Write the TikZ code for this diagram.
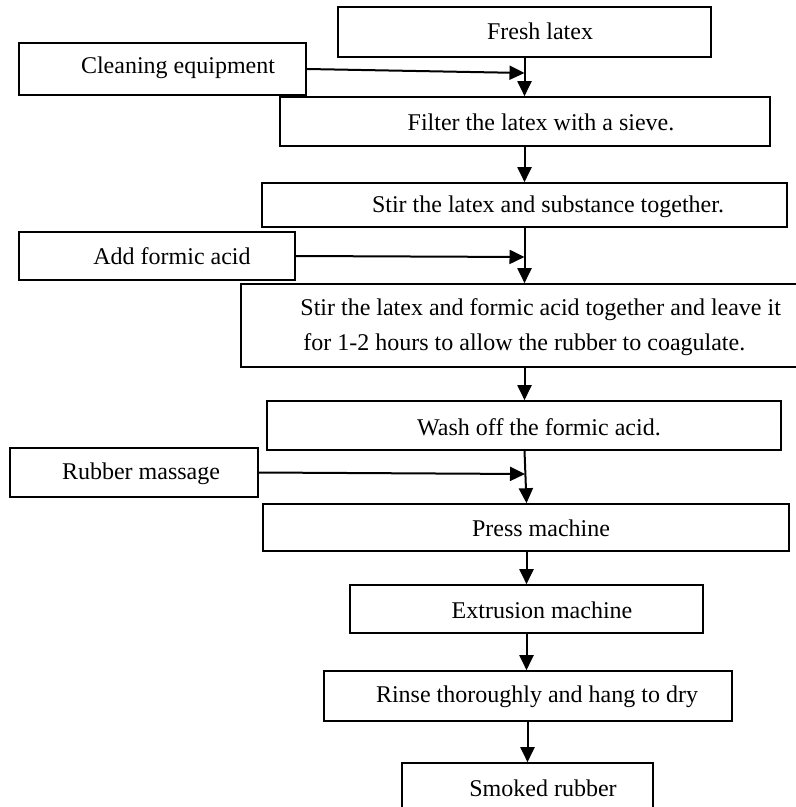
\documentclass[tikz,border=0pt]{standalone}
\usepackage{fontspec}
\setmainfont{Liberation Serif}
\usetikzlibrary{arrows.meta,fit}
\begin{document}
\begin{tikzpicture}[x=0.5pt,y=-0.5pt,
  box/.style={draw=black,line width=0.8pt,inner sep=0pt,rectangle},
  txt/.style={inner sep=0pt,font=\fontsize{12}{14}\selectfont},
  arr/.style={draw=black,line width=1pt,-{Triangle[length=7.5pt,width=7pt]}},
  plain/.style={draw=black,line width=1pt}]
\useasboundingbox (0,0) rectangle (796,807);
% boxes
\node[box,fit={(338,7) (711,57)}] (fresh) {};
\node[box,fit={(19,43) (306,95)}] (clean) {};
\node[box,fit={(280,97) (770,146)}] (filter) {};
\node[box,fit={(262,183) (787,227)}] (stir) {};
\node[box,fit={(19,232) (295,280)}] (add) {};
\node[box,fit={(241,284) (806,367)}] (coag) {};
\node[box,fit={(267,401) (781,450)}] (wash) {};
\node[box,fit={(10,448) (258,497)}] (rubber) {};
\node[box,fit={(263,504) (789,551)}] (press) {};
\node[box,fit={(350,585) (703,633)}] (extr) {};
\node[box,fit={(324,671) (732,721)}] (rinse) {};
\node[box,fit={(402,763) (653,815)}] (smoked) {};
% texts
\node[txt] (tfresh) at (540,31) {Fresh latex};
\node[txt] (tclean) at (178,68) {Cleaning equipment};
\node[txt] (tfilter) at (541,122) {Filter the latex with a sieve.};
\node[txt] (tstir) at (548,207) {Stir the latex and substance together.};
\node[txt] (tadd) at (172,256) {Add formic acid};
\node[txt,anchor=west,align=left,font=\fontsize{12}{17.5}\selectfont] (tcoag) at (300,327.5)
  {Stir the latex and formic acid together and leave it\\\hspace{1.5pt}for 1-2 hours to allow the rubber to coagulate.};
\node[txt] (twash) at (539,427) {Wash off the formic acid.};
\node[txt] (trubber) at (141,474) {Rubber massage};
\node[txt] (tpress) at (541,528) {Press machine};
\node[txt] (textr) at (542,610) {Extrusion machine};
\node[txt] (trinse) at (537,697) {Rinse thoroughly and hang to dry};
\node[txt] (tsmoked) at (543,788) {Smoked rubber};
% junctions
\coordinate (j1) at (524.5,73);
\coordinate (j2) at (524.5,257);
\coordinate (j3) at (525,474);
% connectors
\draw[arr] (fresh.south) -- (filter.north -| fresh.south);
\draw[arr] (clean.east) -- (j1);
\draw[arr] (filter.south -| fresh.south) -- (stir.north -| fresh.south);
\draw[arr] (stir.south) -- (coag.north -| stir.south);
\draw[arr] (add.east) -- (j2);
\draw[arr] (coag.south -| stir.south) -- (wash.north -| stir.south);
\draw[arr] (wash.south -| stir.south) -- (press.north -| extr.north);
\draw[arr] (rubber.east) -- (j3);
\draw[arr] (press.south -| extr.north) -- (extr.north);
\draw[arr] (extr.south) -- (rinse.north -| extr.south);
\draw[arr] (rinse.south -| smoked.north) -- (smoked.north);
\end{tikzpicture}
\end{document}
